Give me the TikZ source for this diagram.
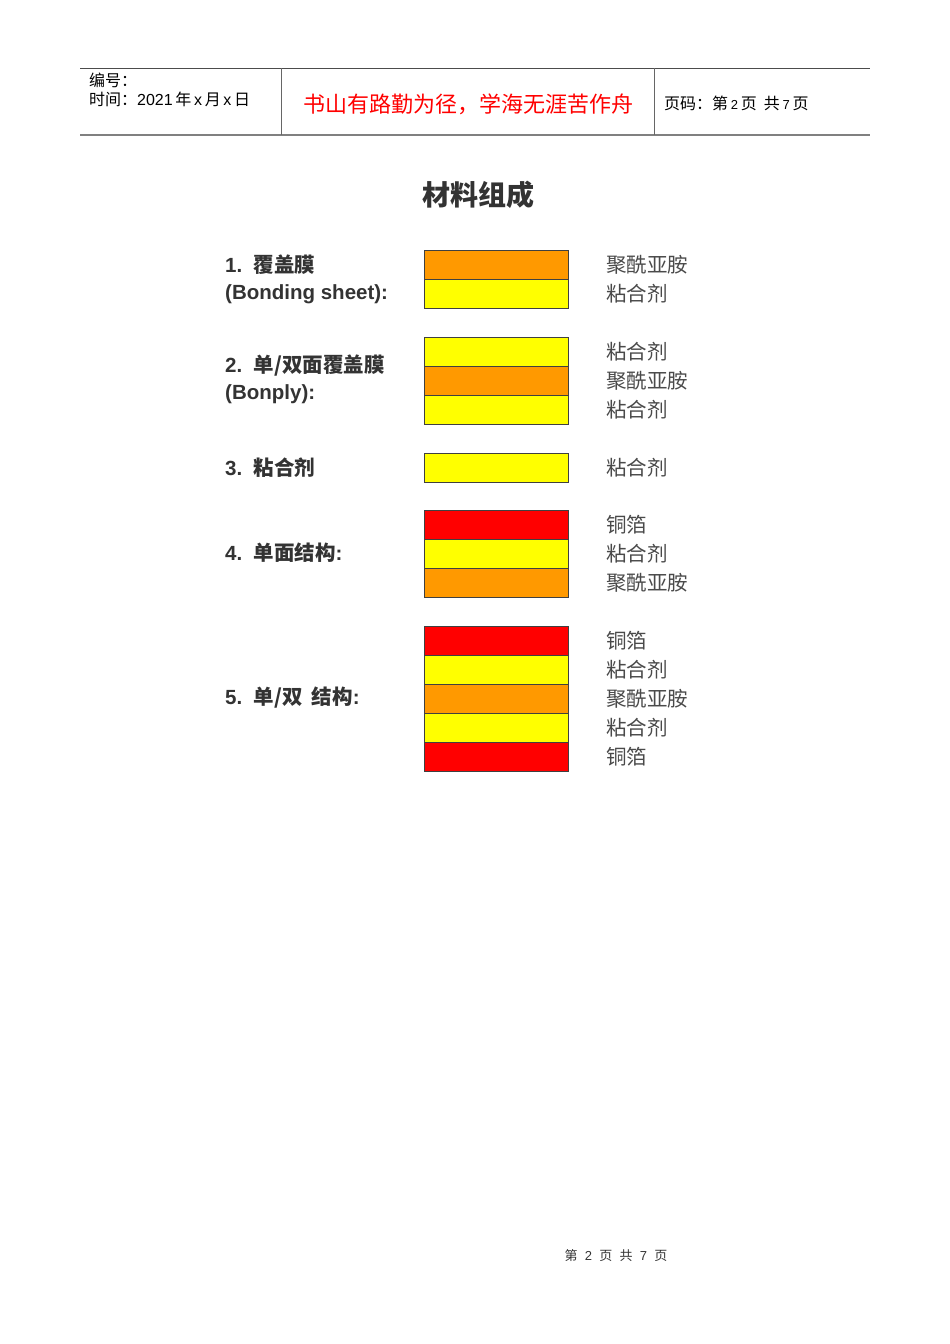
\documentclass[tikz,border=0pt]{standalone}
\usepackage{fontspec}
\setmainfont{Liberation Sans}
\newfontfamily\cjk{Noto Sans CJK SC}
\definecolor{pi}{HTML}{FF9900}
\definecolor{ad}{HTML}{FFFF00}
\definecolor{cu}{HTML}{FF0000}
\definecolor{txt}{HTML}{333333}
\definecolor{lbl}{HTML}{4A4A4A}
\begin{document}
\begin{tikzpicture}[x=1pt,y=-1pt,
  layer/.style={draw=black!75,line width=0.8pt,minimum width=144pt,minimum height=29pt,inner sep=0pt,outer sep=0pt},
  pil/.style={layer,fill=pi},
  adl/.style={layer,fill=ad},
  cul/.style={layer,fill=cu},
  rlab/.style={anchor=west,inner sep=0pt,text=lbl,font=\cjk\fontsize{20.5}{24}\selectfont},
  llab/.style={anchor=west,inner sep=0pt,text=txt,font=\bfseries\fontsize{20.5}{24}\selectfont},
  hdr/.style={anchor=west,inner sep=0pt,text=black,font=\fontsize{16}{19}\selectfont}]
\useasboundingbox (0,0) rectangle (950,1344);
% header
\coordinate (hTL) at (80,68); \coordinate (hTR) at (870,68);
\coordinate (hBL) at (80,135); \coordinate (hBR) at (870,135);
\coordinate (v1t) at (281,68); \coordinate (v1b) at (281,135);
\coordinate (v2t) at (654,68); \coordinate (v2b) at (654,135);
\draw[black!70,line width=1pt] (hTL) -- (hTR);
\draw[black!50,line width=2pt] (hBL) -- (hBR);
\draw[black!60,line width=1pt] (v1t) -- (v1b);
\draw[black!60,line width=1pt] (v2t) -- (v2b);
\node[hdr] (h1) at (89,80) {\cjk 编号：};
\node[hdr] (h2) at (89,99) {\cjk 时间：\normalfont 2021\,{\cjk 年}\,x\,{\cjk 月}\,x\,{\cjk 日}};
\node[inner sep=0pt,text=cu,font=\cjk\fontsize{22}{26}\selectfont] (motto) at (468,104) {书山有路勤为径，学海无涯苦作舟};
\node[hdr] (h3) at (664,103) {\cjk 页码：第\,{\normalfont\fontsize{13}{15}\selectfont 2}\,页\ \ 共\,{\normalfont\fontsize{13}{15}\selectfont 7}\,页};
% title
\node[inner sep=0pt,text=txt,font=\cjk\bfseries\fontsize{28}{32}\selectfont] (title) at (478,195) {材料组成};
% group 1
\node[pil,anchor=north west] (g1a) at (424,250) {};
\node[adl,anchor=north] (g1b) at (g1a.south) {};
\node[rlab] (r1a) at (606,264.5) {聚酰亚胺};
\node[rlab] (r1b) at (606,293.5) {粘合剂};
\node[llab] (l1a) at (225,265) {1.\ \ \cjk\bfseries 覆盖膜};
\node[llab] (l1b) at (225,294) {(Bonding sheet):};
% group 2
\node[adl,anchor=north west] (g2a) at (424,337) {};
\node[pil,anchor=north] (g2b) at (g2a.south) {};
\node[adl,anchor=north] (g2c) at (g2b.south) {};
\node[rlab] (r2a) at (606,351.5) {粘合剂};
\node[rlab] (r2b) at (606,380.5) {聚酰亚胺};
\node[rlab] (r2c) at (606,409.5) {粘合剂};
\node[llab] (l2a) at (225,366) {2.\ \ \cjk\bfseries 单/双面覆盖膜};
\node[llab] (l2b) at (225,394) {(Bonply):};
% group 3
\node[adl,anchor=north west] (g3a) at (424,453) {};
\node[rlab] (r3a) at (606,467.5) {粘合剂};
\node[llab] (l3a) at (225,468) {3.\ \ \cjk\bfseries 粘合剂};
% group 4
\node[cul,anchor=north west] (g4a) at (424,510) {};
\node[adl,anchor=north] (g4b) at (g4a.south) {};
\node[pil,anchor=north] (g4c) at (g4b.south) {};
\node[rlab] (r4a) at (606,524.5) {铜箔};
\node[rlab] (r4b) at (606,553.5) {粘合剂};
\node[rlab] (r4c) at (606,582.5) {聚酰亚胺};
\node[llab] (l4a) at (225,553) {4.\ \ \cjk\bfseries 单面结构\normalfont\bfseries :};
% group 5
\node[cul,anchor=north west] (g5a) at (424,626) {};
\node[adl,anchor=north] (g5b) at (g5a.south) {};
\node[pil,anchor=north] (g5c) at (g5b.south) {};
\node[adl,anchor=north] (g5d) at (g5c.south) {};
\node[cul,anchor=north] (g5e) at (g5d.south) {};
\node[rlab] (r5a) at (606,640.5) {铜箔};
\node[rlab] (r5b) at (606,669.5) {粘合剂};
\node[rlab] (r5c) at (606,698.5) {聚酰亚胺};
\node[rlab] (r5d) at (606,727.5) {粘合剂};
\node[rlab] (r5e) at (606,756.5) {铜箔};
\node[llab] (l5a) at (225,698) {5.\ \ \cjk\bfseries 单/双\ \ 结构\normalfont\bfseries :};
% footer
\node[inner sep=0pt,text=black!80,font=\fontsize{13}{16}\selectfont] (foot) at (616,1256) {{\cjk 第}\ \ 2\ \ {\cjk 页}\ \ {\cjk 共}\ \ 7\ \ {\cjk 页}};
\end{tikzpicture}
\end{document}
